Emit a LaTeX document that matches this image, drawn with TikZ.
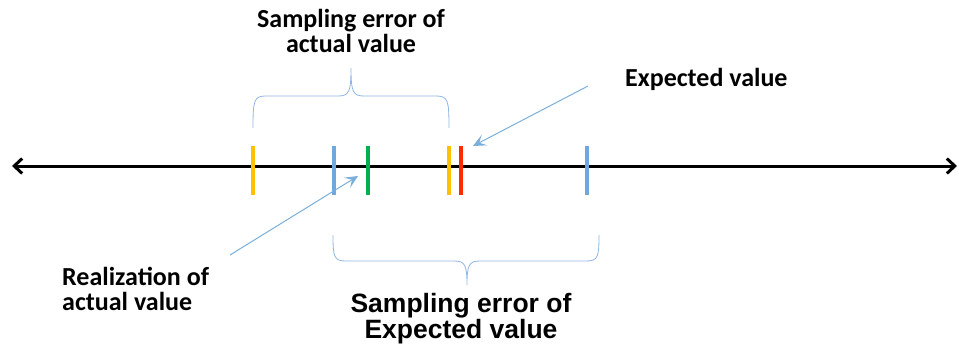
\documentclass[tikz,border=0pt]{standalone}
\usepackage{fontspec}
\setmainfont{Carlito}
\newfontfamily\arialfont{Liberation Sans}
\usetikzlibrary{arrows.meta, positioning}
\definecolor{tickyellow}{HTML}{FFC000}
\definecolor{tickblue}{HTML}{6FA8DC}
\definecolor{tickgreen}{HTML}{00B050}
\definecolor{tickred}{HTML}{FF2A00}
\definecolor{braceblue}{HTML}{8DB4E2}
\definecolor{pointerblue}{HTML}{7AAFDA}

\begin{document}
\begin{tikzpicture}[x=1pt, y=-1pt,
    tick/.style={line width=3.5pt},
    brace/.style={draw=braceblue, line width=0.8pt},
    pointer/.style={draw=pointerblue, line width=1pt, -{Stealth[length=13pt,width=12pt,inset=6pt]}},
    caption/.style={font=\fontsize{26}{25}\selectfont\bfseries, align=center, inner sep=0pt}]
    \useasboundingbox (0,0) rectangle (959,345);

    % Axis
    \coordinate (axl) at (12,166);
    \coordinate (axr) at (957,166);
    \draw[line width=3pt, {Straight Barb[length=8pt,width=15pt]}-{Straight Barb[length=8pt,width=15pt]}] (axl) -- (axr);

    % Ticks
    \foreach \x/\c in {253/tickyellow, 334/tickblue, 368/tickgreen, 449/tickyellow, 461/tickred, 587/tickblue}
        \draw[tick, \c] (\x,146) -- (\x,195);

    % Braces
    \draw[brace] (253,128) .. controls (253,100) and (254,96) .. (266,96) -- (338,96)
        .. controls (349,96) and (351,92) .. (351,68)
        .. controls (351,92) and (353,96) .. (364,96) -- (436,96)
        .. controls (448,96) and (449,100) .. (449,128);
    \draw[brace] (333,235) .. controls (333,257) and (334,261) .. (346,261) -- (454,261)
        .. controls (465,261) and (467,265) .. (467,285)
        .. controls (467,265) and (469,261) .. (480,261) -- (586,261)
        .. controls (598,261) and (599,257) .. (599,235);

    % Labels (base = last line)
    \node[caption, anchor=base] (actualerr) at (351,53) {Sampling error of\\actual value};
    \node[caption, anchor=base west] (expval) at (625,86) {Expected value};
    \node[caption, align=left, anchor=base west] (realize) at (62,310) {Realization of\\actual value};
    \node[caption, font=\arialfont\fontsize{26.5}{24}\selectfont\bfseries, anchor=base] (experr) at (461,338) {Sampling error of\\Expected value};

    % Pointers
    \coordinate (evtail) at (588,86);
    \coordinate (evhead) at (473,146);
    \draw[pointer] (evtail) -- (evhead);
    \coordinate (rztail) at (230,255);
    \coordinate (rzhead) at (358,176);
    \draw[pointer] (rztail) -- (rzhead);
\end{tikzpicture}
\end{document}
